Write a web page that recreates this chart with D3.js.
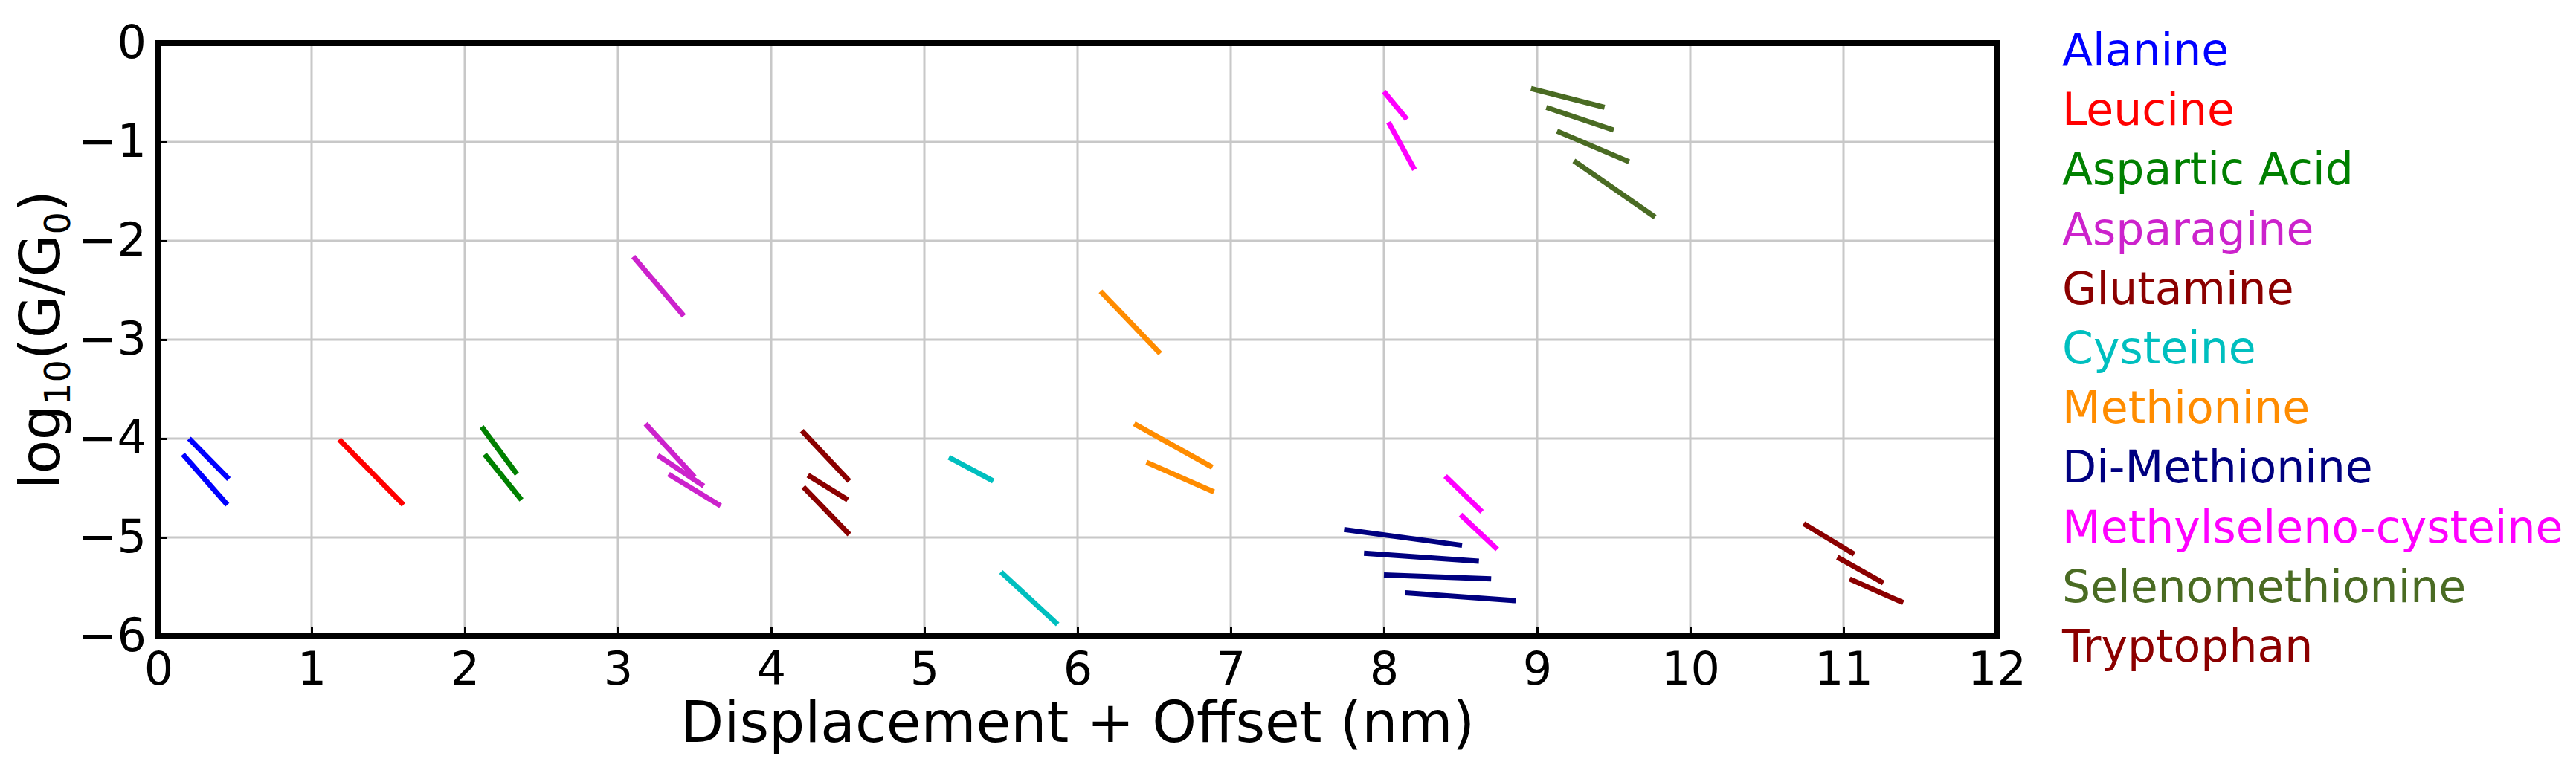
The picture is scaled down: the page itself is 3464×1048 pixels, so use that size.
<!DOCTYPE html>
<html>
<head>
<meta charset="utf-8">
<script src="https://cdn.jsdelivr.net/npm/d3@7"></script>
<style>
  body { margin: 0; background: white; }
  text { font-family: "DejaVu Sans", sans-serif; }
</style>
</head>
<body>
<svg id="chart"></svg>
<script>
// Segments as [x1, y1, x2, y2] in data units
const alanine = [[0.20, -4.00, 0.46, -4.41], [0.16, -4.16, 0.45, -4.67]];
const leucine = [[1.18, -4.01, 1.60, -4.67]];
const asparticAcid = [[2.11, -3.88, 2.34, -4.36], [2.13, -4.16, 2.37, -4.62]];
const asparagine = [[3.10, -2.16, 3.43, -2.76], [3.18, -3.85, 3.50, -4.39],
  [3.26, -4.17, 3.56, -4.48], [3.33, -4.36, 3.67, -4.68]];
const glutamine = [[4.20, -3.92, 4.51, -4.43], [4.24, -4.37, 4.50, -4.62], [4.21, -4.49, 4.51, -4.97]];
const cysteine = [[5.16, -4.19, 5.45, -4.43], [5.50, -5.35, 5.87, -5.88]];
const methionine = [[6.15, -2.51, 6.54, -3.14], [6.37, -3.85, 6.88, -4.29], [6.45, -4.24, 6.89, -4.54]];
const diMethionine = [[7.74, -4.92, 8.51, -5.08], [7.87, -5.16, 8.62, -5.24],
  [8.00, -5.38, 8.70, -5.42], [8.14, -5.56, 8.86, -5.64]];
const methylselenoCysteine = [[8.00, -0.49, 8.15, -0.77], [8.03, -0.80, 8.20, -1.28],
  [8.40, -4.38, 8.64, -4.74], [8.50, -4.77, 8.74, -5.12]];
const selenomethionine = [[8.96, -0.46, 9.44, -0.65], [9.06, -0.65, 9.50, -0.88],
  [9.13, -0.89, 9.60, -1.20], [9.24, -1.19, 9.77, -1.76]];
const tryptophan = [[10.74, -4.86, 11.07, -5.17], [10.96, -5.20, 11.26, -5.46], [11.04, -5.42, 11.39, -5.66]];

const seriesNames = ['Alanine', 'Leucine', 'Aspartic Acid', 'Asparagine', 'Glutamine', 'Cysteine',
  'Methionine', 'Di-Methionine', 'Methylseleno-cysteine', 'Selenomethionine', 'Tryptophan'];
const seriesColors = ['#0000ff', '#ff0000', '#008000', '#cc22cc', '#8b0000', '#00bfbf',
  '#ff8c00', '#000080', '#ff00ff', '#4a6b23', '#8b0000'];
const seriesData = [alanine, leucine, asparticAcid, asparagine, glutamine, cysteine,
  methionine, diMethionine, methylselenoCysteine, selenomethionine, tryptophan];

const xTicks = [0, 1, 2, 3, 4, 5, 6, 7, 8, 9, 10, 11, 12];
const yTicks = [0, -1, -2, -3, -4, -5, -6];

const W = 3464, H = 1048;
const margin = { top: 58, right: 779, bottom: 192, left: 213 };
const width = W - margin.left - margin.right;
const height = H - margin.top - margin.bottom;

const svg = d3.select('#chart').attr('width', W).attr('height', H);
const g = svg.append('g').attr('transform', `translate(${margin.left},${margin.top})`);

const x = d3.scaleLinear().domain([0, 12]).range([0, width]);
const y = d3.scaleLinear().domain([-6, 0]).range([height, 0]);

// Grid
g.append('g').selectAll('line').data(xTicks).enter().append('line')
  .attr('x1', d => x(d)).attr('x2', d => x(d)).attr('y1', 0).attr('y2', height)
  .attr('stroke', '#c8c8c8').attr('stroke-width', 3);
g.append('g').selectAll('line').data(yTicks).enter().append('line')
  .attr('y1', d => y(d)).attr('y2', d => y(d)).attr('x1', 0).attr('x2', width)
  .attr('stroke', '#c8c8c8').attr('stroke-width', 3);

// Axes
const fmt = d => d < 0 ? '\u2212' + Math.abs(d) : String(d);
const xAxis = g.append('g').attr('transform', `translate(0,${height})`)
  .call(d3.axisBottom(x).tickValues(xTicks).tickFormat(fmt).tickSizeInner(-12).tickSizeOuter(0).tickPadding(18));
const yAxis = g.append('g')
  .call(d3.axisLeft(y).tickValues(yTicks).tickFormat(fmt).tickSizeInner(-12).tickSizeOuter(0).tickPadding(16));
[xAxis, yAxis].forEach(a => {
  a.select('.domain').remove();
  a.selectAll('.tick line').attr('stroke', '#000').attr('stroke-width', 3);
  a.selectAll('.tick text').style('font-size', '62px').attr('fill', '#000');
});
xAxis.selectAll('.tick text').attr('dy', '0.75em');

// Frame
g.append('rect').attr('width', width).attr('height', height)
  .attr('fill', 'none').attr('stroke', '#000').attr('stroke-width', 8);

// Segments
seriesData.forEach((segs, i) => {
  g.append('g').selectAll('line').data(segs).enter().append('line')
    .attr('x1', d => x(d[0])).attr('y1', d => y(d[1]))
    .attr('x2', d => x(d[2])).attr('y2', d => y(d[3]))
    .attr('stroke', seriesColors[i]).attr('stroke-width', 7);
});

// Axis titles
svg.append('text')
  .attr('x', margin.left + width / 2).attr('y', 998)
  .attr('text-anchor', 'middle').style('font-size', '76px')
  .text('Displacement + Offset (nm)');
svg.append('text')
  .attr('transform', `translate(80,${margin.top + height / 2}) rotate(-90)`)
  .attr('text-anchor', 'middle').style('font-size', '74px')
  .html('log<tspan font-size="48px" dy="14">10</tspan><tspan dy="-14">(G/G</tspan><tspan font-size="48px" dy="14">0</tspan><tspan dy="-14">)</tspan>');

// Legend (text only)
svg.append('g').selectAll('text').data(seriesNames).enter().append('text')
  .attr('x', 2773).attr('y', (d, i) => 67 + i * 80.2).attr('dy', '0.35em')
  .style('font-size', '60px')
  .attr('fill', (d, i) => seriesColors[i])
  .text(d => d);
</script>
</body>
</html>
